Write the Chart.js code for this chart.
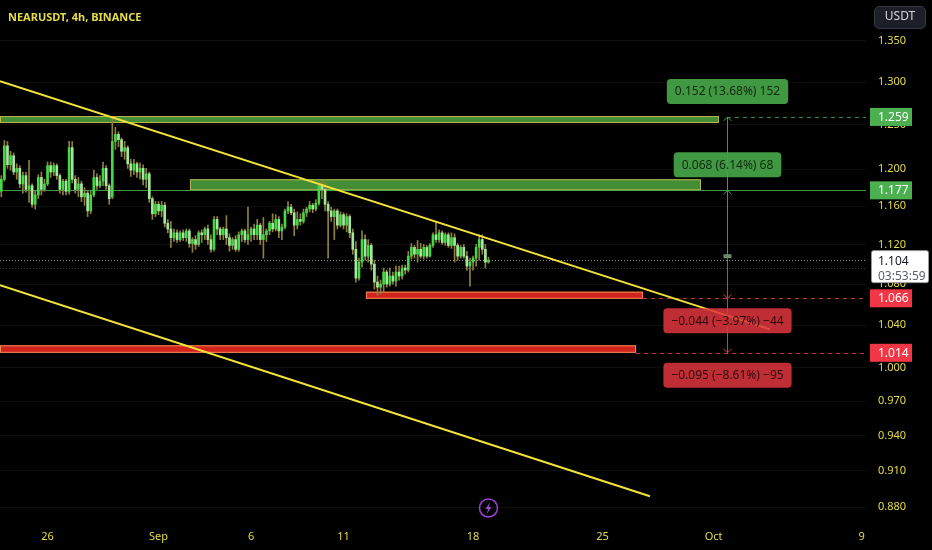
<!DOCTYPE html>
<html lang="en">
<head>
<meta charset="UTF-8">
<title>NEARUSDT, 4h, BINANCE</title>
<script src="https://cdn.jsdelivr.net/npm/chart.js@4.4.0/dist/chart.umd.min.js"></script>
<style>
  html, body { margin: 0; padding: 0; background: #000; }
  #wrap { position: relative; width: 932px; height: 550px; }
  #title { position: absolute; left: 8px; top: 9px; font: bold 11px "Noto Sans", sans-serif; color: #e6dc46; pointer-events: none; }
  #unit { position: absolute; left: 874px; top: 6px; width: 50px; height: 21px; line-height: 21px; text-align: center;
          border-radius: 5px; background: #1c1f27; border: 1px solid #343843; color: #d1d4dc;
          font: 12px "Noto Sans", sans-serif; pointer-events: none; }
</style>
</head>
<body>
<div id="wrap">
  <canvas id="chart"></canvas>
  <div id="title">NEARUSDT, 4h, BINANCE</div>
  <div id="unit">USDT</div>
</div>
<script>
// x axis counts days of August (Sep 1 = 32), first 4h candle is Aug 23 12:00
var candleStart = 23.5;
var candleStep = 1 / 6;

var opens = [
  1.176, 1.189, 1.226, 1.205, 1.215, 1.197, 1.201, 1.184, 1.193, 1.178,
  1.182, 1.162, 1.172, 1.191, 1.178, 1.184, 1.204, 1.197, 1.204, 1.193,
  1.178, 1.187, 1.176, 1.224, 1.189, 1.178, 1.184, 1.170, 1.174, 1.155,
  1.172, 1.191, 1.182, 1.187, 1.201, 1.182, 1.170, 1.231, 1.239, 1.233,
  1.220, 1.224, 1.206, 1.199, 1.206, 1.197, 1.201, 1.189, 1.195, 1.168,
  1.152, 1.162, 1.155, 1.161, 1.142, 1.136, 1.127, 1.132, 1.125, 1.132,
  1.127, 1.134, 1.121, 1.125, 1.120, 1.132, 1.130, 1.136, 1.125, 1.115,
  1.146, 1.136, 1.130, 1.136, 1.127, 1.119, 1.125, 1.115, 1.130, 1.134,
  1.125, 1.130, 1.136, 1.130, 1.140, 1.125, 1.130, 1.134, 1.142, 1.136,
  1.146, 1.134, 1.138, 1.155, 1.159, 1.153, 1.140, 1.146, 1.144, 1.153,
  1.157, 1.161, 1.157, 1.163, 1.182, 1.178, 1.162, 1.155, 1.149, 1.155,
  1.140, 1.151, 1.140, 1.149, 1.132, 1.115, 1.086, 1.102, 1.125, 1.108,
  1.119, 1.100, 1.082, 1.077, 1.080, 1.092, 1.080, 1.088, 1.083, 1.092,
  1.088, 1.096, 1.094, 1.108, 1.117, 1.110, 1.115, 1.108, 1.117, 1.108,
  1.119, 1.130, 1.125, 1.132, 1.122, 1.130, 1.119, 1.127, 1.119, 1.108,
  1.117, 1.108, 1.098, 1.102, 1.106, 1.117, 1.125, 1.115, 1.102
];
var highs = [
  1.193, 1.232, 1.231, 1.220, 1.218, 1.206, 1.204, 1.197, 1.197, 1.210,
  1.184, 1.176, 1.194, 1.197, 1.189, 1.208, 1.208, 1.207, 1.206, 1.195,
  1.189, 1.189, 1.231, 1.231, 1.193, 1.191, 1.187, 1.180, 1.176, 1.176,
  1.199, 1.195, 1.193, 1.208, 1.204, 1.184, 1.259, 1.247, 1.242, 1.235,
  1.231, 1.226, 1.211, 1.211, 1.208, 1.207, 1.205, 1.201, 1.197, 1.170,
  1.165, 1.165, 1.165, 1.164, 1.146, 1.144, 1.136, 1.135, 1.134, 1.135,
  1.136, 1.136, 1.127, 1.129, 1.134, 1.135, 1.138, 1.140, 1.130, 1.149,
  1.149, 1.138, 1.138, 1.150, 1.131, 1.127, 1.129, 1.133, 1.136, 1.136,
  1.159, 1.138, 1.141, 1.146, 1.142, 1.148, 1.136, 1.144, 1.152, 1.151,
  1.149, 1.141, 1.157, 1.165, 1.162, 1.157, 1.154, 1.152, 1.157, 1.159,
  1.165, 1.163, 1.167, 1.186, 1.188, 1.186, 1.165, 1.159, 1.157, 1.157,
  1.154, 1.153, 1.152, 1.151, 1.136, 1.123, 1.106, 1.134, 1.130, 1.125,
  1.121, 1.104, 1.088, 1.084, 1.096, 1.094, 1.096, 1.092, 1.098, 1.098,
  1.099, 1.099, 1.113, 1.121, 1.119, 1.124, 1.121, 1.120, 1.119, 1.121,
  1.132, 1.143, 1.135, 1.134, 1.132, 1.132, 1.132, 1.131, 1.121, 1.119,
  1.120, 1.113, 1.106, 1.108, 1.120, 1.130, 1.130, 1.120, 1.107
];
var lows = [
  1.170, 1.187, 1.201, 1.199, 1.194, 1.189, 1.180, 1.174, 1.175, 1.164,
  1.159, 1.157, 1.168, 1.172, 1.176, 1.182, 1.191, 1.193, 1.189, 1.174,
  1.172, 1.172, 1.173, 1.185, 1.174, 1.170, 1.165, 1.161, 1.149, 1.152,
  1.170, 1.178, 1.180, 1.182, 1.178, 1.162, 1.168, 1.222, 1.225, 1.214,
  1.211, 1.201, 1.192, 1.194, 1.191, 1.189, 1.183, 1.180, 1.164, 1.146,
  1.149, 1.151, 1.149, 1.138, 1.132, 1.117, 1.123, 1.122, 1.123, 1.124,
  1.123, 1.117, 1.112, 1.115, 1.118, 1.122, 1.125, 1.120, 1.112, 1.113,
  1.130, 1.125, 1.125, 1.120, 1.113, 1.115, 1.113, 1.113, 1.123, 1.122,
  1.120, 1.123, 1.125, 1.125, 1.120, 1.106, 1.123, 1.130, 1.133, 1.134,
  1.127, 1.125, 1.136, 1.152, 1.151, 1.129, 1.136, 1.140, 1.142, 1.149,
  1.154, 1.153, 1.155, 1.161, 1.168, 1.155, 1.106, 1.144, 1.125, 1.136,
  1.138, 1.136, 1.133, 1.127, 1.110, 1.082, 1.084, 1.097, 1.104, 1.102,
  1.094, 1.075, 1.069, 1.070, 1.072, 1.077, 1.078, 1.080, 1.078, 1.084,
  1.085, 1.090, 1.092, 1.105, 1.106, 1.102, 1.106, 1.105, 1.106, 1.107,
  1.117, 1.122, 1.122, 1.120, 1.119, 1.117, 1.116, 1.102, 1.104, 1.106,
  1.106, 1.094, 1.078, 1.094, 1.098, 1.104, 1.110, 1.096, 1.101
];
var closes = [
  1.189, 1.226, 1.205, 1.215, 1.197, 1.201, 1.184, 1.193, 1.178, 1.182,
  1.162, 1.172, 1.191, 1.178, 1.184, 1.204, 1.197, 1.204, 1.193, 1.178,
  1.187, 1.176, 1.224, 1.189, 1.178, 1.184, 1.170, 1.174, 1.155, 1.172,
  1.191, 1.182, 1.187, 1.201, 1.182, 1.168, 1.231, 1.239, 1.233, 1.220,
  1.224, 1.206, 1.199, 1.206, 1.197, 1.201, 1.189, 1.195, 1.168, 1.152,
  1.162, 1.155, 1.161, 1.142, 1.136, 1.127, 1.132, 1.125, 1.132, 1.127,
  1.134, 1.121, 1.125, 1.120, 1.132, 1.130, 1.136, 1.125, 1.115, 1.146,
  1.136, 1.130, 1.136, 1.127, 1.119, 1.125, 1.115, 1.130, 1.134, 1.125,
  1.130, 1.136, 1.130, 1.140, 1.125, 1.130, 1.134, 1.142, 1.136, 1.146,
  1.134, 1.138, 1.155, 1.159, 1.153, 1.140, 1.146, 1.144, 1.153, 1.157,
  1.161, 1.157, 1.163, 1.182, 1.178, 1.162, 1.155, 1.149, 1.155, 1.140,
  1.151, 1.140, 1.149, 1.132, 1.115, 1.086, 1.102, 1.125, 1.108, 1.119,
  1.100, 1.082, 1.077, 1.080, 1.092, 1.080, 1.088, 1.083, 1.092, 1.088,
  1.096, 1.094, 1.108, 1.117, 1.110, 1.115, 1.108, 1.117, 1.108, 1.119,
  1.130, 1.125, 1.132, 1.122, 1.130, 1.119, 1.127, 1.119, 1.108, 1.117,
  1.108, 1.098, 1.102, 1.106, 1.117, 1.125, 1.115, 1.102, 1.104
];

var dayTicks = [26, 32, 37, 42, 49, 56, 62, 70];
var dayLabels = ['26', 'Sep', '6', '11', '18', '25', 'Oct', '9'];
var priceTicks = [1.35, 1.30, 1.25, 1.20, 1.16, 1.12, 1.08, 1.04, 1.00, 0.97, 0.94, 0.91, 0.88];

var upperTrend = [{x: 23.43, y: 1.301}, {x: 65.05, y: 1.036}];
var lowerTrend = [{x: 23.43, y: 1.079}, {x: 58.56, y: 0.889}];

// zones: [from day, to day, top price, bottom price]
var greenZones = [[23.43, 62.29, 1.260, 1.252], [33.70, 61.32, 1.189, 1.177]];
var redZones = [[43.21, 58.18, 1.0725, 1.0655], [23.43, 57.81, 1.021, 1.014]];

var entryPrice = 1.108;
var measureDay = 62.72;
var targets = [1.259, 1.177];
var stops = [1.066, 1.014];
var targetTexts = ['0.152 (13.68%) 152', '0.068 (6.14%) 68'];
var stopTexts = ['\u22120.044 (\u22123.97%) \u221244', '\u22120.095 (\u22128.61%) \u221295'];
var lastPrice = 1.104;
var prevPrice = 1.096;
var countdown = '03:53:59';

var tickColor = '#e6dc46';
var font = 'Noto Sans';

var wicks = [], bodies = [], bodyColors = [];
for (var i = 0; i < closes.length; i++) {
  var t = candleStart + i * candleStep;
  wicks.push({x: t, y: [lows[i], highs[i]]});
  bodies.push({x: t, y: [opens[i], closes[i]]});
  bodyColors.push(closes[i] >= opens[i] ? '#45d845' : '#a4e69c');
}

function hline(ctx, y, x0, x1, color, dash, w) {
  ctx.save();
  ctx.strokeStyle = color;
  ctx.lineWidth = w || 1;
  ctx.setLineDash(dash || []);
  ctx.beginPath();
  ctx.moveTo(x0, Math.round(y) + 0.5);
  ctx.lineTo(x1, Math.round(y) + 0.5);
  ctx.stroke();
  ctx.restore();
}

function rbox(ctx, x, y, w, h, r, fill, stroke) {
  ctx.beginPath();
  ctx.moveTo(x + r, y);
  ctx.lineTo(x + w - r, y);
  ctx.quadraticCurveTo(x + w, y, x + w, y + r);
  ctx.lineTo(x + w, y + h - r);
  ctx.quadraticCurveTo(x + w, y + h, x + w - r, y + h);
  ctx.lineTo(x + r, y + h);
  ctx.quadraticCurveTo(x, y + h, x, y + h - r);
  ctx.lineTo(x, y + r);
  ctx.quadraticCurveTo(x, y, x + r, y);
  ctx.closePath();
  ctx.fillStyle = fill;
  ctx.fill();
  if (stroke) { ctx.strokeStyle = stroke; ctx.lineWidth = 1; ctx.stroke(); }
}

var overlay = {
  id: 'overlay',
  beforeDatasetsDraw: function (chart) {
    var ctx = chart.ctx, a = chart.chartArea, xs = chart.scales.x, ys = chart.scales.y;
    ctx.save();
    ctx.beginPath();
    ctx.rect(a.left, a.top, a.right - a.left, a.bottom - a.top);
    ctx.clip();

    hline(ctx, ys.getPixelForValue(prevPrice), a.left, a.right, 'rgba(140,140,140,0.45)', [1, 2]);
    hline(ctx, ys.getPixelForValue(lastPrice), a.left, a.right, 'rgba(190,190,190,0.75)', [1, 2]);

    // zones
    greenZones.forEach(function (z) {
      var x0 = xs.getPixelForValue(z[0]), x1 = xs.getPixelForValue(z[1]);
      var y0 = ys.getPixelForValue(z[2]), y1 = ys.getPixelForValue(z[3]);
      ctx.fillStyle = 'rgba(76,160,60,0.88)';
      ctx.fillRect(x0, y0, x1 - x0, y1 - y0);
      ctx.strokeStyle = '#bdb44f';
      ctx.lineWidth = 1;
      ctx.strokeRect(x0 + 0.5, y0 + 0.5, x1 - x0 - 1, y1 - y0 - 1);
    });
    redZones.forEach(function (z) {
      var x0 = xs.getPixelForValue(z[0]), x1 = xs.getPixelForValue(z[1]);
      var y0 = ys.getPixelForValue(z[2]), y1 = ys.getPixelForValue(z[3]);
      ctx.fillStyle = 'rgba(225,38,30,0.92)';
      ctx.fillRect(x0, y0, x1 - x0, y1 - y0);
      ctx.strokeStyle = '#f08a55';
      ctx.lineWidth = 1;
      ctx.strokeRect(x0 + 0.5, y0 + 0.5, x1 - x0 - 1, y1 - y0 - 1);
    });

    // level lines
    hline(ctx, ys.getPixelForValue(targets[1]), a.left, a.right, 'rgba(76,175,80,0.85)');
    var mx = xs.getPixelForValue(measureDay);
    hline(ctx, ys.getPixelForValue(targets[0]), mx, a.right, 'rgba(76,175,80,0.8)', [4, 4]);
    hline(ctx, ys.getPixelForValue(stops[0]), xs.getPixelForValue(redZones[0][1]), a.right, 'rgba(230,60,70,0.85)', [4, 4]);
    hline(ctx, ys.getPixelForValue(stops[1]), xs.getPixelForValue(redZones[1][1]), a.right, 'rgba(230,60,70,0.85)', [4, 4]);
    ctx.restore();
  },
  afterDatasetsDraw: function (chart) {
    var ctx = chart.ctx, a = chart.chartArea, xs = chart.scales.x, ys = chart.scales.y;
    var mx = Math.round(xs.getPixelForValue(measureDay)) + 0.5;
    var ey = ys.getPixelForValue(entryPrice);
    ctx.save();

    // measuring arrows
    ctx.lineWidth = 1;
    ctx.strokeStyle = '#3f9a42';
    ctx.beginPath();
    ctx.moveTo(mx, ey);
    ctx.lineTo(mx, ys.getPixelForValue(targets[0]));
    ctx.stroke();
    targets.forEach(function (p) {
      var y = ys.getPixelForValue(p);
      ctx.beginPath();
      ctx.moveTo(mx - 4, y + 4); ctx.lineTo(mx, y); ctx.lineTo(mx + 4, y + 4);
      ctx.stroke();
    });
    ctx.strokeStyle = '#c8404a';
    ctx.beginPath();
    ctx.moveTo(mx, ey);
    ctx.lineTo(mx, ys.getPixelForValue(stops[1]));
    ctx.stroke();
    stops.forEach(function (p) {
      var y = ys.getPixelForValue(p);
      ctx.beginPath();
      ctx.moveTo(mx - 4, y - 4); ctx.lineTo(mx, y); ctx.lineTo(mx + 4, y - 4);
      ctx.stroke();
    });
    ctx.fillStyle = '#6d8a6d';
    ctx.fillRect(mx - 4, ey - 2, 8, 4);

    // distance labels
    ctx.font = '12px "' + font + '"';
    ctx.textAlign = 'center';
    ctx.textBaseline = 'middle';
    targets.forEach(function (p, k) {
      var y = ys.getPixelForValue(p);
      var w = ctx.measureText(targetTexts[k]).width + 16;
      rbox(ctx, mx - w / 2, y - 13 - 25, w, 25, 4, 'rgba(70,165,72,0.92)');
      ctx.fillStyle = '#10280f';
      ctx.fillText(targetTexts[k], mx, y - 13 - 12);
    });
    stops.forEach(function (p, k) {
      var y = ys.getPixelForValue(p);
      var w = ctx.measureText(stopTexts[k]).width + 16;
      rbox(ctx, mx - w / 2, y + 10, w, 25, 4, 'rgba(222,52,62,0.86)');
      ctx.fillStyle = '#2e0b0b';
      ctx.fillText(stopTexts[k], mx, y + 10 + 13);
    });

    // price axis labels
    var lx = a.right + 4;
    ctx.textAlign = 'left';
    targets.forEach(function (p) {
      var y = ys.getPixelForValue(p);
      ctx.fillStyle = '#4caf50';
      ctx.fillRect(lx, y - 9, 42, 18);
      ctx.fillStyle = '#ffffff';
      ctx.fillText(p.toFixed(3), a.right + 12, y + 0.5);
    });
    stops.forEach(function (p) {
      var y = ys.getPixelForValue(p);
      ctx.fillStyle = '#f23645';
      ctx.fillRect(lx, y - 9, 42, 18);
      ctx.fillStyle = '#ffffff';
      ctx.fillText(p.toFixed(3), a.right + 12, y + 0.5);
    });
    var py = ys.getPixelForValue(lastPrice);
    rbox(ctx, lx + 1.5, py - 9.5, 57, 32, 2, '#ffffff', '#9a9a9a');
    ctx.fillStyle = '#131722';
    ctx.fillText(lastPrice.toFixed(3), a.right + 12, py + 1);
    ctx.fillStyle = '#5d606b';
    ctx.fillText(countdown, a.right + 12, py + 16);

    // event marker under the last candle
    var ix = xs.getPixelForValue(candleStart + (closes.length - 1) * candleStep);
    var iy = a.bottom - 14;
    ctx.strokeStyle = '#9b3fd6';
    ctx.lineWidth = 1.5;
    ctx.beginPath();
    ctx.arc(ix, iy, 9, 0, Math.PI * 2);
    ctx.stroke();
    ctx.fillStyle = '#a24ade';
    ctx.beginPath();
    ctx.moveTo(ix + 1.8, iy - 6);
    ctx.lineTo(ix - 3, iy + 1);
    ctx.lineTo(ix - 0.2, iy + 1);
    ctx.lineTo(ix - 1.8, iy + 6);
    ctx.lineTo(ix + 3, iy - 1);
    ctx.lineTo(ix + 0.2, iy - 1);
    ctx.closePath();
    ctx.fill();
    ctx.restore();
  }
};

new Chart(document.getElementById('chart'), {
  type: 'bar',
  data: {
    datasets: [
      { type: 'line', data: upperTrend, borderColor: '#f2e23a', borderWidth: 2, pointRadius: 0, order: 1 },
      { type: 'line', data: lowerTrend, borderColor: '#f2e23a', borderWidth: 2, pointRadius: 0, order: 1 },
      { data: bodies, backgroundColor: bodyColors, barThickness: 2, grouped: false, order: 2 },
      { data: wicks, backgroundColor: '#8d8040', barThickness: 1, grouped: false, order: 3 }
    ]
  },
  options: {
    responsive: true,
    maintainAspectRatio: false,
    animation: false,
    layout: { padding: 0 },
    plugins: { legend: { display: false }, tooltip: { enabled: false } },
    scales: {
      x: {
        type: 'linear', min: 23.43, max: 70.24, offset: false,
        afterBuildTicks: function (s) { s.ticks = dayTicks.map(function (v) { return {value: v}; }); },
        afterFit: function (s) { s.height = 28; s.paddingLeft = 0; s.paddingRight = 0; },
        grid: { display: false, drawTicks: false },
        border: { display: false },
        ticks: {
          color: tickColor, font: { family: font, size: 11 }, padding: 8, maxRotation: 0, autoSkip: false,
          callback: function (v) { var k = dayTicks.indexOf(v); return k >= 0 ? dayLabels[k] : ''; }
        }
      },
      y: {
        type: 'logarithmic', position: 'right', min: 0.8682, max: 1.4016,
        afterBuildTicks: function (s) { s.ticks = priceTicks.map(function (v) { return {value: v}; }); },
        afterFit: function (s) { s.width = 66; s.paddingTop = 0; s.paddingBottom = 0; },
        grid: { color: 'rgba(255,255,255,0.06)', drawTicks: false },
        border: { display: false },
        ticks: {
          color: tickColor, font: { family: font, size: 11 }, padding: 12, autoSkip: false,
          callback: function (v) { return Number(v).toFixed(3); }
        }
      }
    }
  },
  plugins: [overlay]
});
</script>
</body>
</html>
